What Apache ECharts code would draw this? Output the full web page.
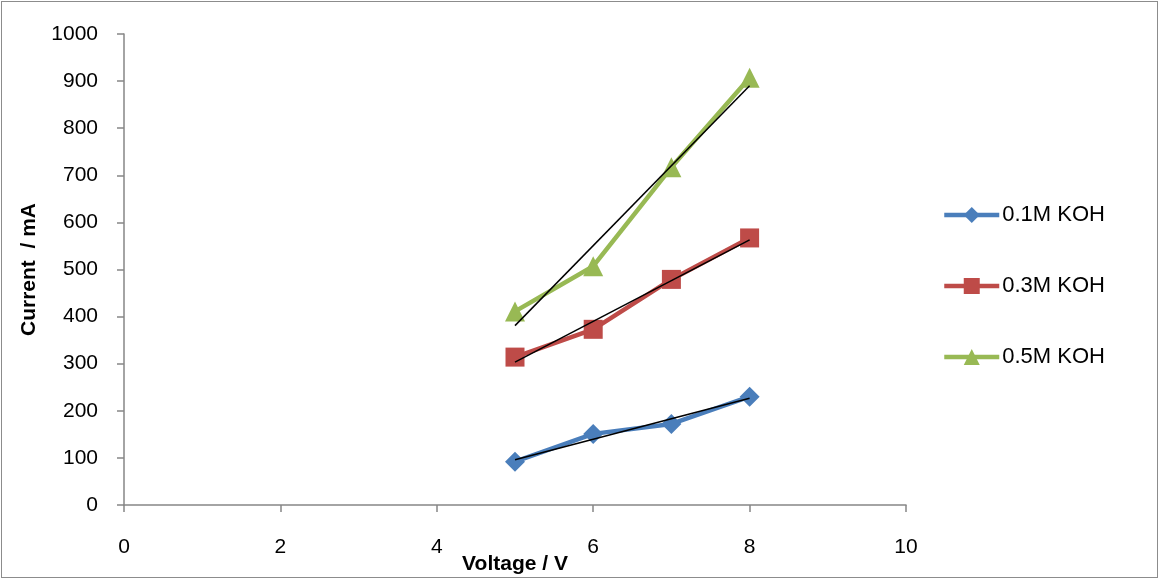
<!DOCTYPE html>
<html><head><meta charset="utf-8">
<script src="https://cdn.jsdelivr.net/npm/echarts@6/dist/echarts.min.js"></script>
<style>html,body{margin:0;padding:0;background:#fff}#c{width:1161px;height:581px}
#frame{position:absolute;left:1px;top:1px;width:1157px;height:577px;border:1px solid #8c8c8c;box-sizing:border-box;pointer-events:none}</style>
</head><body><div id="c"></div><div id="frame"></div>
<script>
const voltage = [5, 6, 7, 8];
const koh01 = [92, 151, 172, 230];
const koh03 = [314, 373, 479, 567];
const koh05 = [411, 507, 717, 907];
const seriesNames = ['0.1M KOH', '0.3M KOH', '0.5M KOH'];
const colors = ['#4a7ebb', '#be4b48', '#98b954'];
const symbols = ['diamond', 'rect', 'triangle'];
const symbolSizes = [20, 19, 20];

function fit(xs, ys) {
  const n = xs.length;
  const mx = xs.reduce((a,b)=>a+b,0)/n, my = ys.reduce((a,b)=>a+b,0)/n;
  let sxy = 0, sxx = 0;
  for (let i=0;i<n;i++){ sxy += (xs[i]-mx)*(ys[i]-my); sxx += (xs[i]-mx)**2; }
  const b = sxy/sxx, a = my - b*mx;
  const x0 = xs[0], x1 = xs[n-1];
  return [[x0, a+b*x0], [x1, a+b*x1]];
}

const all = [koh01, koh03, koh05];
const font = 'Liberation Sans';
const series = [];
all.forEach((ys, i) => {
  series.push({
    name: seriesNames[i], type: 'line',
    data: voltage.map((x, j) => [x, ys[j]]),
    symbol: symbols[i], symbolSize: symbolSizes[i],
    itemStyle: { color: colors[i] },
    lineStyle: { color: colors[i], width: 4.5 },
    z: 2
  });
});
all.forEach((ys, i) => {
  series.push({
    name: 'trend' + i, type: 'line', data: fit(voltage, ys),
    symbol: 'none', lineStyle: { color: '#000', width: 1.5 }, z: 5, silent: true
  });
});

const chart = echarts.init(document.getElementById('c'));
chart.setOption({
  animation: false,
  grid: { left: 124, right: 255, top: 34, bottom: 76, containLabel: false, outerBoundsMode: 'none' },
  legend: {
    data: seriesNames, orient: 'vertical', left: 937, top: 199,
    itemWidth: 55, itemHeight: 20, itemGap: 49,
    lineStyle: { width: 4.5 },
    textStyle: { fontFamily: font, fontSize: 22, lineHeight: 22, color: '#000', padding: [0,0,0,-2] }
  },
  xAxis: {
    type: 'value', min: 0, max: 10, interval: 2,
    name: 'Voltage / V', nameLocation: 'middle', nameGap: 49, nameMoveOverlap: false,
    nameTextStyle: { fontFamily: font, fontSize: 21, fontWeight: 'bold', color: '#000' },
    axisLine: { lineStyle: { color: '#868686', width: 1.5 } },
    axisTick: { show: true, length: 7, lineStyle: { color: '#868686', width: 1.5 } },
    axisLabel: { fontFamily: font, fontSize: 21, color: '#000', margin: 32, formatter: v => String(v) },
    splitLine: { show: false }
  },
  yAxis: {
    type: 'value', min: 0, max: 1000, interval: 100,
    name: 'Current  / mA', nameLocation: 'middle', nameGap: 84, nameRotate: 90, nameMoveOverlap: false,
    nameTextStyle: { fontFamily: font, fontSize: 21, fontWeight: 'bold', color: '#000' },
    axisLine: { show: true, lineStyle: { color: '#868686', width: 1.5 } },
    axisTick: { show: true, length: 7, lineStyle: { color: '#868686', width: 1.5 } },
    axisLabel: { fontFamily: font, fontSize: 21, color: '#000', margin: 26, formatter: v => String(v) },
    splitLine: { show: false }
  },
  series: series
});
</script></body></html>
